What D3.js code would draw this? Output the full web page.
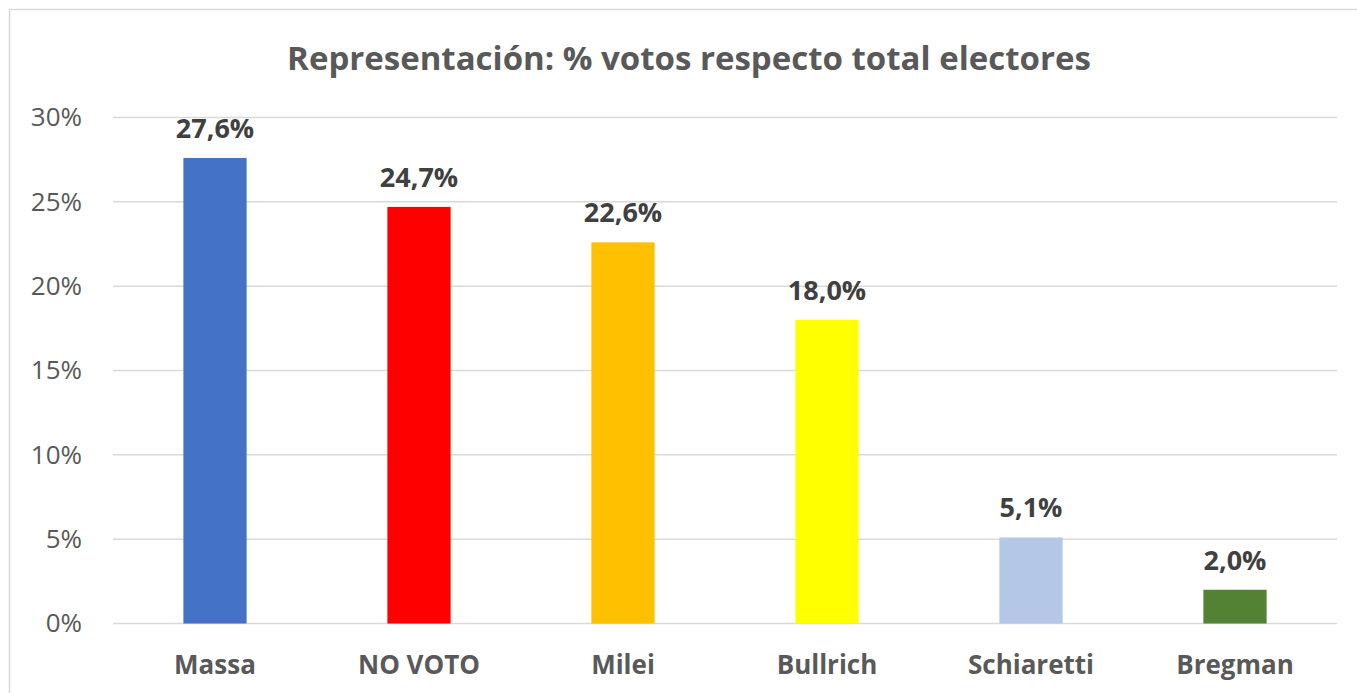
<!DOCTYPE html>
<html>
<head>
<meta charset="utf-8">
<script src="https://cdn.jsdelivr.net/npm/d3@7"></script>
<style>
  body { margin: 0; background: #fff; }
  svg { display: block; font-family: "Open Sans", "Liberation Sans", sans-serif; }
</style>
</head>
<body>
<svg id="chart"></svg>
<script>
const categories = ["Massa", "NO VOTO", "Milei", "Bullrich", "Schiaretti", "Bregman"];
const values = [27.6, 24.7, 22.6, 18.0, 5.1, 2.0];
const barColors = ["#4472c4", "#ff0000", "#ffc000", "#ffff00", "#b4c7e7", "#548235"];
const tickValues = [0, 5, 10, 15, 20, 25, 30];

const data = categories.map((c, i) => ({ cat: c, val: values[i], color: barColors[i] }));

const W = 1357, H = 693;
const margin = { top: 117.5, right: 20, bottom: 69.5, left: 113 };
const width = 1337 - margin.left, height = 623.5 - margin.top;

const root = d3.select("#chart").attr("width", W).attr("height", H);

// chart frame
root.append("rect")
    .attr("x", 9.5).attr("y", 9.5)
    .attr("width", W + 20).attr("height", H + 20)
    .attr("fill", "none")
    .attr("stroke", "#d9d9d9")
    .attr("stroke-width", 1.5);

const svg = root.append("g").attr("transform", `translate(${margin.left},${margin.top})`);

const x = d3.scaleBand().domain(categories).range([0, width]).paddingInner(0.69).paddingOuter(0.345);
const y = d3.scaleLinear().domain([0, 30]).range([height, 0]);

// gridlines
svg.append("g")
    .selectAll("line")
    .data(tickValues)
    .enter().append("line")
    .attr("x1", 0).attr("x2", width)
    .attr("y1", d => y(d)).attr("y2", d => y(d))
    .attr("stroke", "#d9d9d9")
    .attr("stroke-width", 1.5);

// y axis labels
const yAxis = svg.append("g")
    .call(d3.axisLeft(y).tickValues(tickValues).tickFormat(d => d + "%").tickSize(0).tickPadding(31));
yAxis.select(".domain").remove();
yAxis.selectAll("text")
    .style("font-size", "26px")
    .style("font-family", "'Open Sans', sans-serif")
    .attr("fill", "#595959");

// bars
svg.selectAll(".bar")
    .data(data)
    .enter().append("rect")
    .attr("class", "bar")
    .attr("x", d => x(d.cat))
    .attr("width", x.bandwidth())
    .attr("y", d => y(d.val))
    .attr("height", d => y(0) - y(d.val))
    .attr("fill", d => d.color);

// value labels
svg.selectAll(".label")
    .data(data)
    .enter().append("text")
    .attr("class", "label")
    .attr("x", d => x(d.cat) + x.bandwidth() / 2)
    .attr("y", d => y(d.val) - 20)
    .attr("text-anchor", "middle")
    .style("font-size", "27px")
    .style("font-weight", "bold")
    .attr("fill", "#404040")
    .text(d => d.val.toFixed(1).replace(".", ",") + "%");

// x axis labels
const xAxis = svg.append("g")
    .attr("transform", `translate(0,${height})`)
    .call(d3.axisBottom(x).tickSize(0).tickPadding(32));
xAxis.select(".domain").remove();
xAxis.selectAll("text")
    .style("font-size", "26px")
    .style("font-weight", "bold")
    .style("font-family", "'Open Sans', sans-serif")
    .attr("fill", "#595959");

// title
root.append("text")
    .attr("x", 689)
    .attr("y", 70)
    .attr("text-anchor", "middle")
    .style("font-size", "33px")
    .style("font-weight", "bold")
    .attr("fill", "#595959")
    .text("Representación: % votos respecto total electores");
</script>
</body>
</html>
